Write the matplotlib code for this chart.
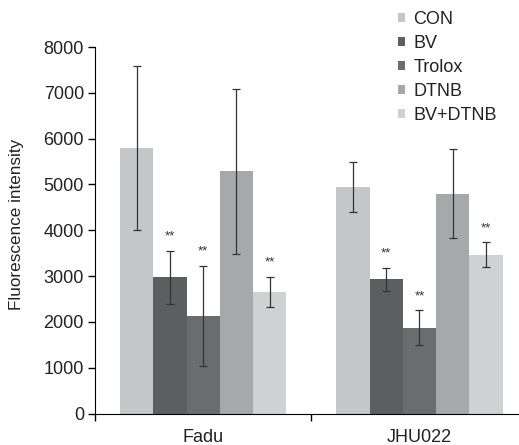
import matplotlib
matplotlib.use("Agg")
import matplotlib.pyplot as plt
import numpy as np

plt.rcParams['font.family'] = ['Liberation Sans', 'DejaVu Sans']

categories = ["Fadu", "JHU022"]
series = ["CON", "BV", "Trolox", "DTNB", "BV+DTNB"]
values = {
    "CON":     [5800, 4950],
    "BV":      [2970, 2925],
    "Trolox":  [2125, 1870],
    "DTNB":    [5290, 4795],
    "BV+DTNB": [2650, 3465],
}
errors = {
    "CON":     [1790, 550],
    "BV":      [575, 260],
    "Trolox":  [1095, 385],
    "DTNB":    [1800, 975],
    "BV+DTNB": [330, 272],
}
significant = {
    "CON":     [False, False],
    "BV":      [True, True],
    "Trolox":  [True, True],
    "DTNB":    [False, False],
    "BV+DTNB": [True, True],
}
colors = ["#c5c6c8", "#5d5e60", "#6b6c6e", "#a6a8aa", "#d0d1d3"]

fig = plt.figure(figsize=(5.19, 4.45), dpi=100)
ax = fig.add_axes([95/519, 1-413.5/445, 1-95/519, (413.5-47)/445])

x = np.arange(len(categories))
w = 0.154
for i, s in enumerate(series):
    pos = x + (i - 2) * w
    ax.bar(pos, values[s], width=w, color=colors[i], label=s, zorder=2)
    ax.errorbar(pos, values[s], yerr=errors[s], fmt='none', ecolor='#333333',
                elinewidth=0.9, capsize=3, capthick=0.9, zorder=3)
    for j in range(len(categories)):
        if significant[s][j]:
            ax.text(pos[j], values[s][j] + errors[s][j] + 180, "**", ha='center',
                    va='bottom', fontsize=9.5, color='#333333')

ax.set_xlim(-0.5, 1.46)
ax.set_ylim(0, 8000)
ax.set_yticks(np.arange(0, 8001, 1000))
ax.tick_params(axis='y', labelsize=13, length=5, width=1, direction='out', pad=3,
               labelcolor='#222222')
ax.set_xticks(x)
ax.set_xticklabels(categories, fontsize=13, color='#222222')
ax.tick_params(axis='x', length=0, pad=11)
ax.set_xticks([-0.5, 0.5], minor=True)
ax.tick_params(axis='x', which='minor', length=5, width=1, direction='out')
ax.spines['top'].set_visible(False)
ax.spines['right'].set_visible(False)
ax.set_ylabel("Fluorescence intensity", fontsize=12.3, color='#222222')
ax.yaxis.set_label_coords(-0.167, 0.517)

fig.legend(loc='upper left', bbox_to_anchor=(391/519, 1-4/445), frameon=False,
           fontsize=13, handlelength=0.4, handleheight=0.4, handletextpad=0.45,
           labelspacing=0.38, borderaxespad=0, labelcolor='#222222')

fig.savefig("out.png", dpi=100)
